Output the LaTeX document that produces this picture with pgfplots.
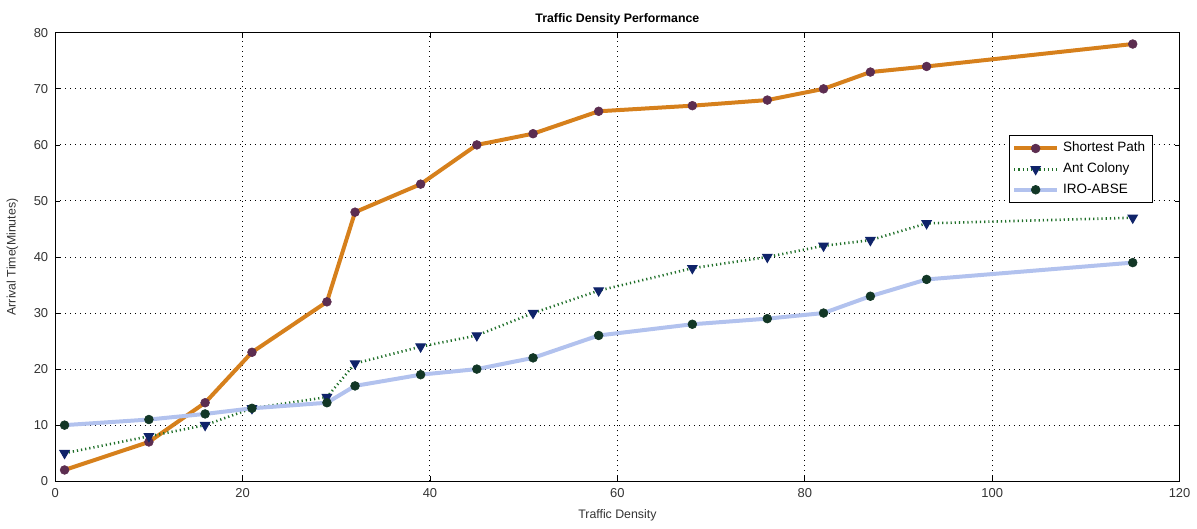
\documentclass[border=0pt]{standalone}
\usepackage{pgfplots}
\pgfplotsset{compat=1.18}
\usepackage{fontspec}
\setmainfont{Liberation Sans}
\definecolor{sporange}{RGB}{214,128,28}
\definecolor{spmark}{RGB}{92,45,80}
\definecolor{acgreen}{RGB}{30,110,40}
\definecolor{acmark}{RGB}{15,35,105}
\definecolor{iroblue}{RGB}{178,194,238}
\definecolor{iromark}{RGB}{18,55,38}
\begin{document}
\begin{tikzpicture}
\begin{axis}[
  scale only axis,
  width=563bp, height=224.5bp,
  xmin=0, xmax=120, ymin=0, ymax=80,
  xtick={0,20,...,120}, ytick={0,10,...,80},
  tick align=inside,
  major tick length=2.5bp,
  grid=major,
  grid style={black, dash pattern=on 0.5bp off 2bp, line width=0.5pt},
  axis line style={black, line width=0.5pt},
  every tick/.style={black},
  /pgf/number format/assume math mode=true,
  tick label style={font=\fontsize{6.5}{7}\selectfont, text=black!80},
  label style={font=\fontsize{6.2}{7}\selectfont, text=black!80},
  title style={font=\bfseries\fontsize{6.2}{7}\selectfont, inner ysep=7bp, yshift=-9.5bp},
  title={Traffic Density Performance},
  xlabel={Traffic Density},
  ylabel={Arrival Time(Minutes)},
  xlabel style={yshift=0.5bp},
  ylabel style={yshift=1bp},
  legend style={at={(rel axis cs:0.976,0.773)}, anchor=north east,
    font=\fontsize{6.8}{7.5}\selectfont, draw=black, line width=0.5pt,
    inner sep=1.5bp, row sep=0bp},
  legend cell align=left,
  legend image code/.code={\draw[mark repeat=2,mark phase=2,#1] plot coordinates {(0cm,0cm) (0.38cm,0cm) (0.76cm,0cm)};},
]
\addplot[sporange, line width=2bp, mark=*, mark size=2.2bp,
  mark options={fill=spmark, draw=spmark, line width=0.3pt, solid}]
  coordinates {(1,2) (10,7) (16,14) (21,23) (29,32) (32,48) (39,53) (45,60) (51,62) (58,66) (68,67) (76,68) (82,70) (87,73) (93,74) (115,78)};
\addlegendentry{Shortest Path}
\addplot[acgreen, line width=1.3bp, dash pattern=on 0.6bp off 1.5bp, mark=triangle*, mark size=2.7bp,
  mark options={rotate=180, fill=acmark, draw=acmark, solid, line width=0.5pt}]
  coordinates {(1,5) (10,8) (16,10) (21,13) (29,15) (32,21) (39,24) (45,26) (51,30) (58,34) (68,38) (76,40) (82,42) (87,43) (93,46) (115,47)};
\addlegendentry{Ant Colony}
\addplot[iroblue, line width=2bp, mark=*, mark size=2.2bp,
  mark options={fill=iromark, draw=iromark, solid, line width=0.3pt}]
  coordinates {(1,10) (10,11) (16,12) (21,13) (29,14) (32,17) (39,19) (45,20) (51,22) (58,26) (68,28) (76,29) (82,30) (87,33) (93,36) (115,39)};
\addlegendentry{IRO-ABSE}
\end{axis}
\end{tikzpicture}
\end{document}
